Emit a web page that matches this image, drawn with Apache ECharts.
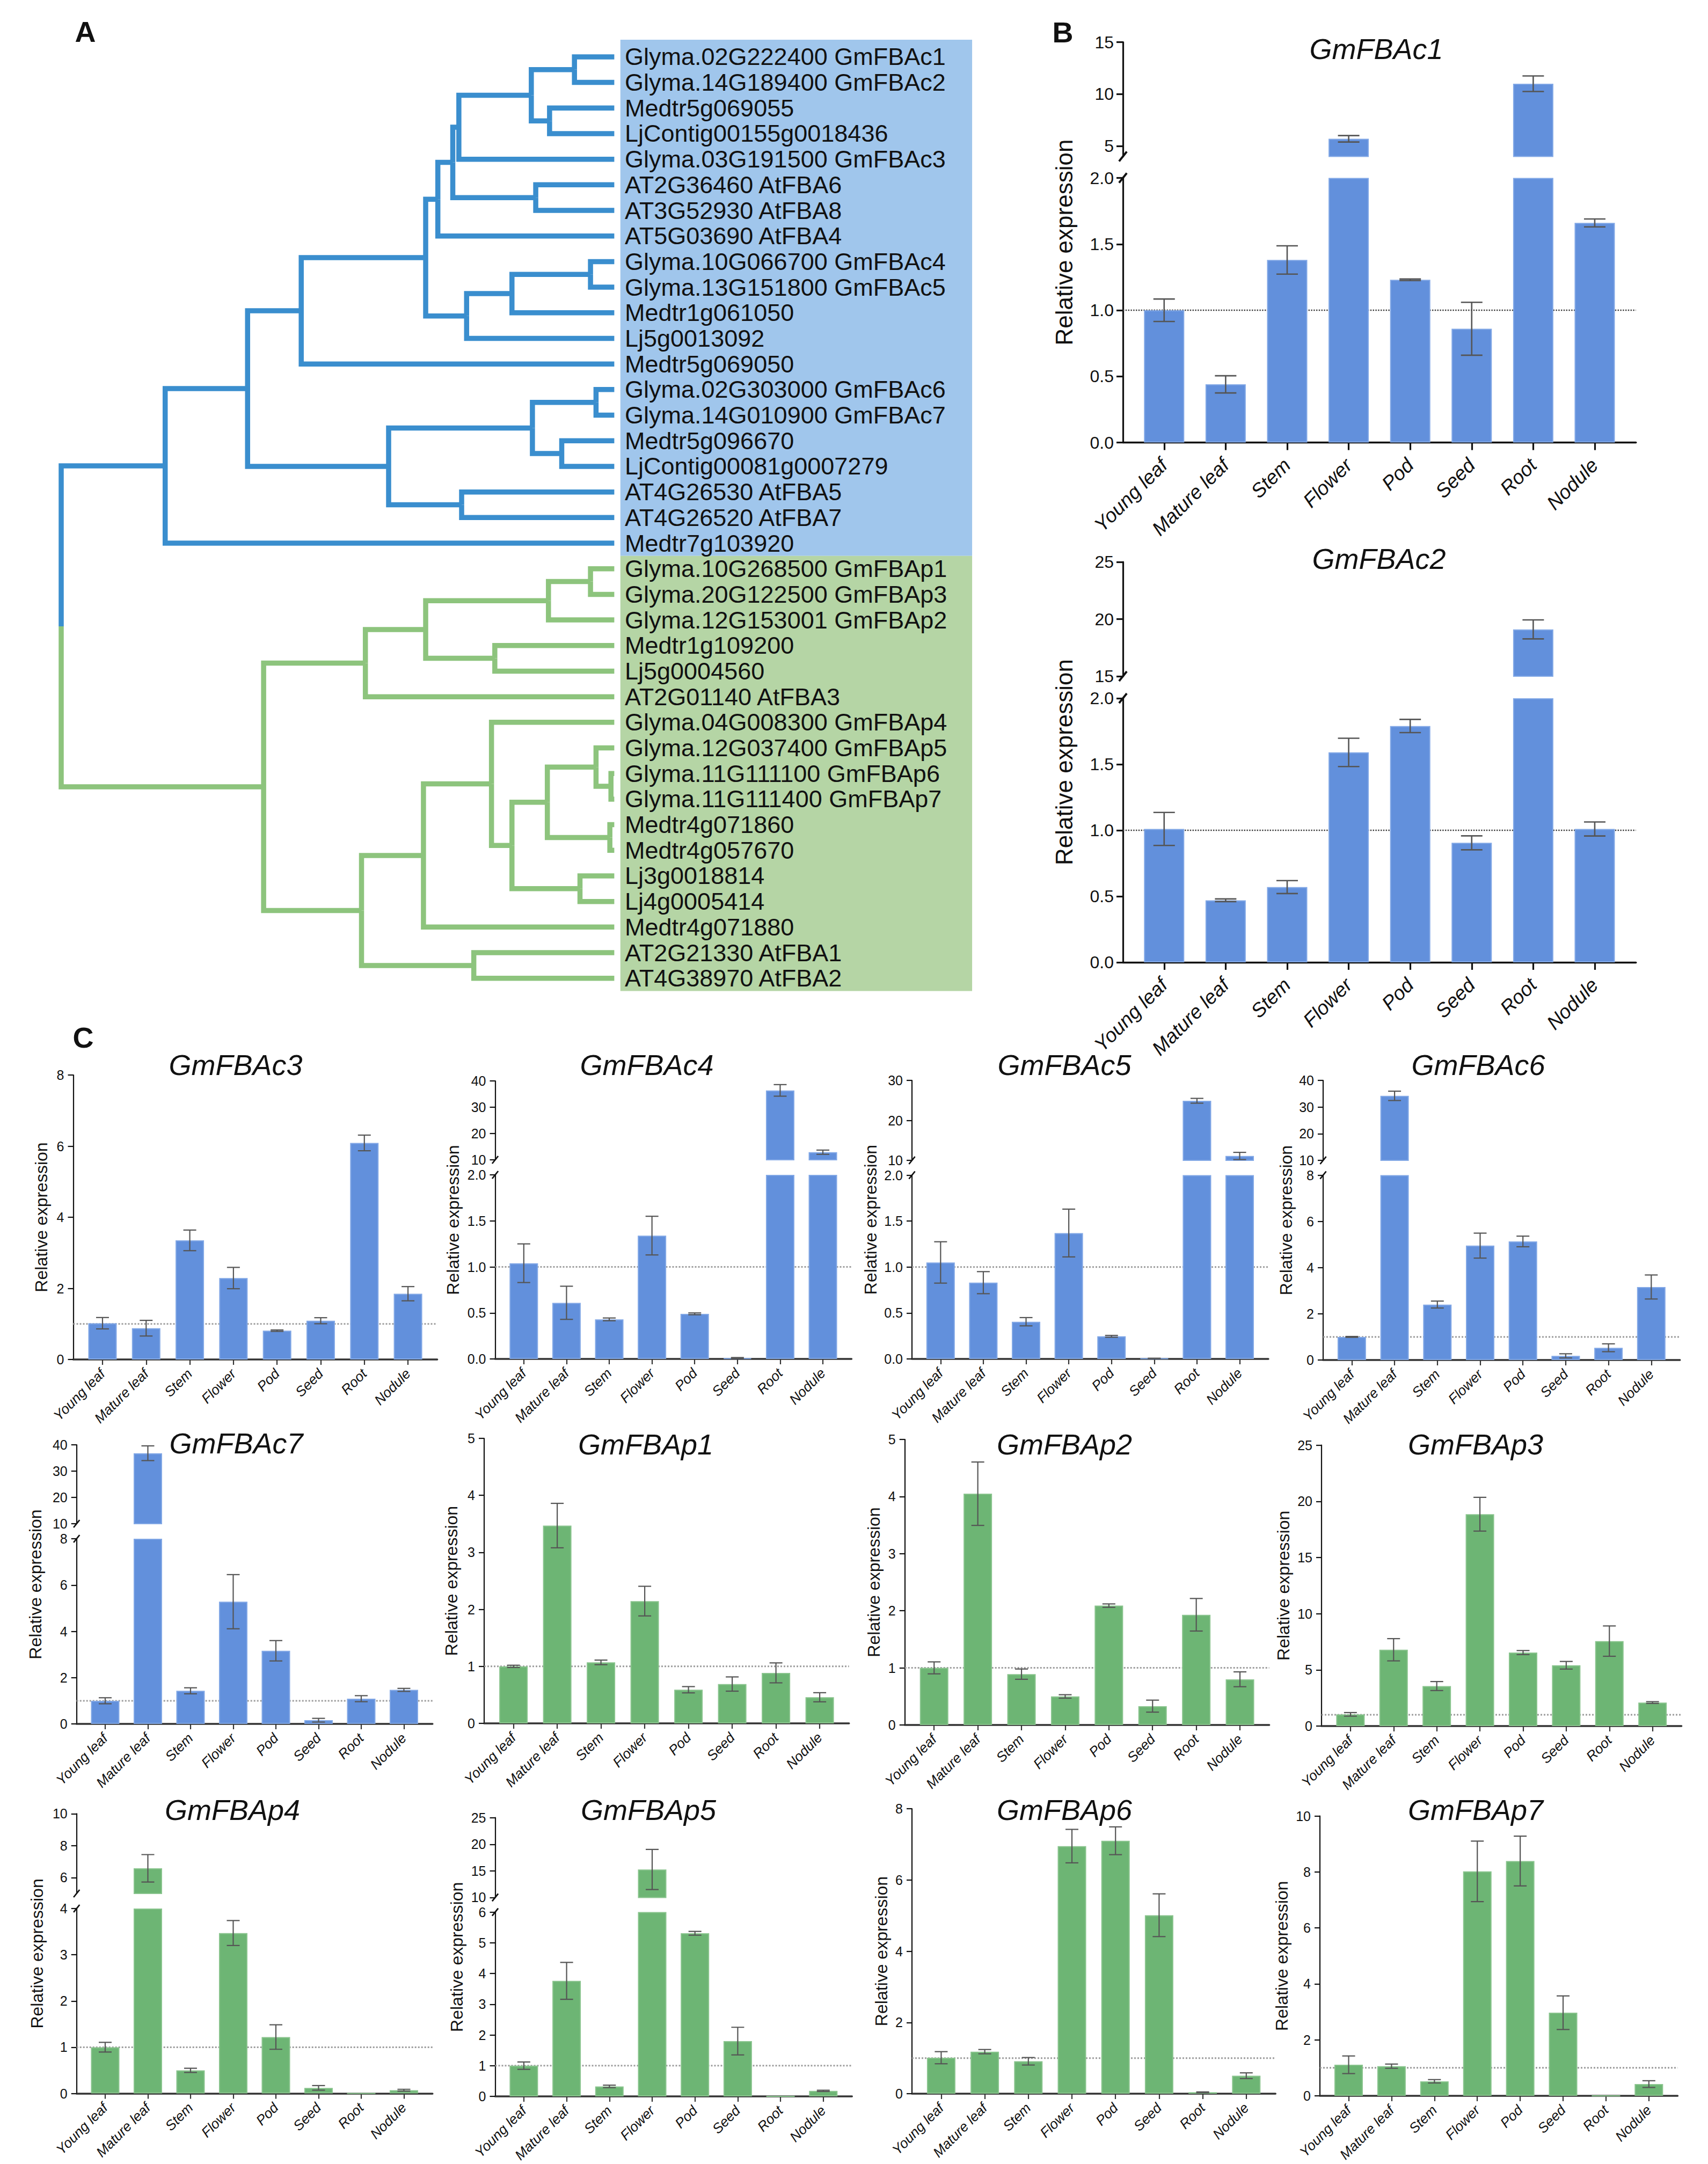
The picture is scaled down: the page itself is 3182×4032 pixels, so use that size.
<!DOCTYPE html>
<html>
<head>
<meta charset="utf-8">
<title>FBA phylogeny and expression</title>
<script src="https://cdn.jsdelivr.net/npm/echarts@6.0.0/dist/echarts.min.js"></script>
<style>
html,body{margin:0;padding:0;background:#ffffff;}
#chart{width:3182px;height:4032px;}
</style>
</head>
<body>
<div id="chart"></div>
<script>
// ======================= DATA =======================
const leafNames = [
  'Glyma.02G222400 GmFBAc1', 'Glyma.14G189400 GmFBAc2', 'Medtr5g069055', 'LjContig00155g0018436',
  'Glyma.03G191500 GmFBAc3', 'AT2G36460 AtFBA6', 'AT3G52930 AtFBA8', 'AT5G03690 AtFBA4',
  'Glyma.10G066700 GmFBAc4', 'Glyma.13G151800 GmFBAc5', 'Medtr1g061050', 'Lj5g0013092',
  'Medtr5g069050', 'Glyma.02G303000 GmFBAc6', 'Glyma.14G010900 GmFBAc7', 'Medtr5g096670',
  'LjContig00081g0007279', 'AT4G26530 AtFBA5', 'AT4G26520 AtFBA7', 'Medtr7g103920',
  'Glyma.10G268500 GmFBAp1', 'Glyma.20G122500 GmFBAp3', 'Glyma.12G153001 GmFBAp2', 'Medtr1g109200',
  'Lj5g0004560', 'AT2G01140 AtFBA3', 'Glyma.04G008300 GmFBAp4', 'Glyma.12G037400 GmFBAp5',
  'Glyma.11G111100 GmFBAp6', 'Glyma.11G111400 GmFBAp7', 'Medtr4g071860', 'Medtr4g057670',
  'Lj3g0018814', 'Lj4g0005414', 'Medtr4g071880', 'AT2G21330 AtFBA1', 'AT4G38970 AtFBA2'
];
// number of leaves in the cytosolic (blue) and plastid (green) clades
const cladeSizes = [20, 17];
// node = [node depth (root 0, tips 1), childA, childB]; integers are leaf indices
const treeTopology = [0,
  [0.188, [0.337, [0.434, [0.659, [0.681, [0.708, [0.719, [0.850, [0.928, 0, 1], [0.883, 2, 3]], 4], [0.858, 5, 6]], 7], [0.733, [0.815, [0.957, 8, 9], 10], 11]], 12], [0.592, [0.852, [0.967, 13, 14], [0.905, 15, 16]], [0.724, 17, 18]]], 19],
  [0.366, [0.550, [0.659, [0.881, [0.957, 20, 21], 22], [0.784, 23, 24]], 25], [0.543, [0.655, [0.778, 26, [0.815, [0.879, [0.967, 27, [0.994, 28, 29]], [0.992, 30, 31]], [0.938, 32, 33]]], 34], [0.746, 35, 36]]]
];

const tissues = ['Young leaf', 'Mature leaf', 'Stem', 'Flower', 'Pod', 'Seed', 'Root', 'Nodule'];

const GmFBAc1_mean = [1.00, 0.44, 1.38, 5.70, 1.23, 0.86, 11.0, 1.66];
const GmFBAc1_sd   = [0.085, 0.065, 0.107, 0.31, 0.006, 0.20, 0.75, 0.03];
const GmFBAc1_yTicksLower = [0, 0.5, 1, 1.5, 2];
const GmFBAc1_yTicksUpper = [5, 10, 15];

const GmFBAc2_mean = [1.01, 0.47, 0.57, 1.59, 1.79, 0.905, 19.1, 1.01];
const GmFBAc2_sd   = [0.125, 0.01, 0.049, 0.107, 0.05, 0.053, 0.83, 0.053];
const GmFBAc2_yTicksLower = [0, 0.5, 1, 1.5, 2];
const GmFBAc2_yTicksUpper = [15, 20, 25];

const GmFBAc3_mean = [1.02, 0.88, 3.35, 2.29, 0.81, 1.09, 6.09, 1.85];
const GmFBAc3_sd   = [0.16, 0.22, 0.29, 0.30, 0.02, 0.085, 0.22, 0.20];
const GmFBAc3_yTicks = [0, 2, 4, 6, 8];

const GmFBAc4_mean = [1.04, 0.61, 0.43, 1.34, 0.49, 0.01, 36.4, 12.9];
const GmFBAc4_sd   = [0.21, 0.18, 0.015, 0.21, 0.01, 0.005, 2.2, 0.8];
const GmFBAc4_yTicksLower = [0, 0.5, 1, 1.5, 2];
const GmFBAc4_yTicksUpper = [10, 20, 30, 40];

const GmFBAc5_mean = [1.05, 0.83, 0.405, 1.37, 0.246, 0.005, 24.9, 11.1];
const GmFBAc5_sd   = [0.225, 0.12, 0.045, 0.26, 0.01, 0.003, 0.6, 0.9];
const GmFBAc5_yTicksLower = [0, 0.5, 1, 1.5, 2];
const GmFBAc5_yTicksUpper = [10, 20, 30];

const GmFBAc6_mean = [1.00, 34.2, 2.40, 4.95, 5.13, 0.18, 0.53, 3.16];
const GmFBAc6_sd   = [0.02, 1.75, 0.15, 0.54, 0.23, 0.09, 0.17, 0.52];
const GmFBAc6_yTicksLower = [0, 2, 4, 6, 8];
const GmFBAc6_yTicksUpper = [10, 20, 30, 40];

const GmFBAc7_mean = [1.00, 36.8, 1.43, 5.28, 3.16, 0.16, 1.09, 1.47];
const GmFBAc7_sd   = [0.13, 2.8, 0.13, 1.17, 0.44, 0.08, 0.13, 0.065];
const GmFBAc7_yTicksLower = [0, 2, 4, 6, 8];
const GmFBAc7_yTicksUpper = [10, 20, 30, 40];

const GmFBAp1_mean = [1.00, 3.47, 1.07, 2.145, 0.59, 0.69, 0.886, 0.458];
const GmFBAp1_sd   = [0.02, 0.39, 0.04, 0.26, 0.055, 0.125, 0.175, 0.08];
const GmFBAp1_yTicks = [0, 1, 2, 3, 4, 5];

const GmFBAp2_mean = [1.00, 4.05, 0.89, 0.50, 2.09, 0.33, 1.93, 0.80];
const GmFBAp2_sd   = [0.105, 0.555, 0.09, 0.03, 0.03, 0.105, 0.285, 0.13];
const GmFBAp2_yTicks = [0, 1, 2, 3, 4, 5];

const GmFBAp3_mean = [1.04, 6.79, 3.56, 18.85, 6.54, 5.41, 7.56, 2.09];
const GmFBAp3_sd   = [0.16, 0.99, 0.40, 1.50, 0.18, 0.34, 1.35, 0.08];
const GmFBAp3_yTicks = [0, 5, 10, 15, 20, 25];

const GmFBAp4_mean = [1.00, 6.58, 0.50, 3.47, 1.22, 0.12, 0, 0.07];
const GmFBAp4_sd   = [0.105, 0.86, 0.045, 0.27, 0.265, 0.05, 0, 0.02];
const GmFBAp4_yTicksLower = [0, 1, 2, 3, 4];
const GmFBAp4_yTicksUpper = [6, 8, 10];

const GmFBAp5_mean = [1.00, 3.76, 0.325, 15.26, 5.31, 1.80, 0, 0.18];
const GmFBAp5_sd   = [0.12, 0.60, 0.04, 3.77, 0.06, 0.45, 0, 0.02];
const GmFBAp5_yTicksLower = [0, 1, 2, 3, 4, 5, 6];
const GmFBAp5_yTicksUpper = [10, 15, 20, 25];

const GmFBAp6_mean = [1.01, 1.18, 0.91, 6.95, 7.10, 5.01, 0.04, 0.505];
const GmFBAp6_sd   = [0.17, 0.06, 0.105, 0.47, 0.39, 0.60, 0.01, 0.08];
const GmFBAp6_yTicks = [0, 2, 4, 6, 8];

const GmFBAp7_mean = [1.11, 1.06, 0.52, 8.02, 8.39, 2.97, 0, 0.42];
const GmFBAp7_sd   = [0.315, 0.075, 0.06, 1.08, 0.89, 0.60, 0, 0.12];
const GmFBAp7_yTicks = [0, 2, 4, 6, 8, 10];

// ======================= STYLE / LAYOUT =======================
const FONT = "'Liberation Sans', Arial, Helvetica, sans-serif";
const TREE_COLORS = ['#3A8ECE', '#8DC47D'];
const BOX_COLORS = ['#A0C6EC', '#B5D5A5'];
const BAR_COLORS = ['#6290DC', '#6DB574'];
const BAR_EDGE = ['#82A8E6', '#89C48D'];
const ERR_COLOR = '#555555';

const TREE = {left: 114, unitX: 1030.4, row0: 105.9, rowH: 47.69, xMax: 1.7, yMin: -0.67,
              boxX0: 1.011, boxX1: 1.647, textX: 1.019, lineWidth: 9.5, font: 45};

const STYLE = {
  B: {barWidth: 75, capHalf: 20, errWidth: 2.6, yAxisWidth: 3.2, xAxisWidth: 3.4, xAxisColor: '#111',
      yTickLen: 12, xTickLen: 14, tickFont: 32, yLabelMargin: 17, catFont: 37, catMargin: 36,
      nameFont: 44, titleFont: 54, refColor: '#3a3a3a', refWidth: 2.4, slash: 9},
  C: {barWidth: 53, capHalf: 12, errWidth: 2.2, yAxisWidth: 2.2, xAxisWidth: 3.6, xAxisColor: '#333',
      yTickLen: 10, xTickLen: 10, tickFont: 25, yLabelMargin: 17, catFont: 26, catMargin: 22,
      nameFont: 32, titleFont: 54, refColor: '#9d9d9d', refWidth: 3, slash: 7}
};
const X_MIN = -0.67, X_MAX = 7.67;
const tissueIdx = tissues.map((t, i) => i);

const chartSpecs = [
  {gene: 'GmFBAc1', panel: 'B', clade: 0, mean: GmFBAc1_mean, sd: GmFBAc1_sd, lowTicks: GmFBAc1_yTicksLower, upTicks: GmFBAc1_yTicksUpper,
   axisX: 2092, spacing: 114.6, low: [331.5, 824.6], lowMax: 2, up: [78.6, 291.5], upMin: 4, upMax: 15, title: [2564, 91], nameX: 1982},
  {gene: 'GmFBAc2', panel: 'B', clade: 0, mean: GmFBAc2_mean, sd: GmFBAc2_sd, lowTicks: GmFBAc2_yTicksLower, upTicks: GmFBAc2_yTicksUpper,
   axisX: 2092, spacing: 114.6, low: [1301, 1793], lowMax: 2, up: [1047, 1260], upMin: 15, upMax: 25, title: [2569, 1041], nameX: 1982},
  {gene: 'GmFBAc3', panel: 'C', clade: 0, mean: GmFBAc3_mean, sd: GmFBAc3_sd, lowTicks: GmFBAc3_yTicks,
   axisX: 136.5, spacing: 81.3, low: [2003, 2533], lowMax: 8, title: [439, 1984], nameX: 76.5},
  {gene: 'GmFBAc4', panel: 'C', clade: 0, mean: GmFBAc4_mean, sd: GmFBAc4_sd, lowTicks: GmFBAc4_yTicksLower, upTicks: GmFBAc4_yTicksUpper,
   axisX: 922.5, spacing: 79.6, low: [2189, 2532], lowMax: 2, up: [2014, 2161], upMin: 10, upMax: 40, title: [1205, 1984], nameX: 844},
  {gene: 'GmFBAc5', panel: 'C', clade: 0, mean: GmFBAc5_mean, sd: GmFBAc5_sd, lowTicks: GmFBAc5_yTicksLower, upTicks: GmFBAc5_yTicksUpper,
   axisX: 1699, spacing: 79.6, low: [2189.5, 2532], lowMax: 2, up: [2013, 2162], upMin: 10, upMax: 30, title: [1983, 1984], nameX: 1622},
  {gene: 'GmFBAc6', panel: 'C', clade: 0, mean: GmFBAc6_mean, sd: GmFBAc6_sd, lowTicks: GmFBAc6_yTicksLower, upTicks: GmFBAc6_yTicksUpper,
   axisX: 2465, spacing: 79.7, low: [2189.5, 2534], lowMax: 8, up: [2013, 2162], upMin: 10, upMax: 40, title: [2754, 1984], nameX: 2396},
  {gene: 'GmFBAc7', panel: 'C', clade: 0, mean: GmFBAc7_mean, sd: GmFBAc7_sd, lowTicks: GmFBAc7_yTicksLower, upTicks: GmFBAc7_yTicksUpper,
   axisX: 142.7, spacing: 79.5, low: [2867, 3212], lowMax: 8, up: [2692, 2839], upMin: 10, upMax: 40, title: [440, 2689], nameX: 66},
  {gene: 'GmFBAp1', panel: 'C', clade: 1, mean: GmFBAp1_mean, sd: GmFBAp1_sd, lowTicks: GmFBAp1_yTicks,
   axisX: 902, spacing: 81.5, low: [2680, 3211], lowMax: 5, title: [1203, 2691], nameX: 841},
  {gene: 'GmFBAp2', panel: 'C', clade: 1, mean: GmFBAp2_mean, sd: GmFBAp2_sd, lowTicks: GmFBAp2_yTicks,
   axisX: 1685.7, spacing: 81.4, low: [2682, 3214], lowMax: 5, title: [1983, 2691], nameX: 1628},
  {gene: 'GmFBAp3', panel: 'C', clade: 1, mean: GmFBAp3_mean, sd: GmFBAp3_sd, lowTicks: GmFBAp3_yTicks,
   axisX: 2462, spacing: 80.4, low: [2692.6, 3216], lowMax: 25, title: [2749, 2691], nameX: 2391},
  {gene: 'GmFBAp4', panel: 'C', clade: 1, mean: GmFBAp4_mean, sd: GmFBAp4_sd, lowTicks: GmFBAp4_yTicksLower, upTicks: GmFBAp4_yTicksUpper,
   axisX: 142.7, spacing: 79.5, low: [3556, 3900.5], lowMax: 4, up: [3379.4, 3528], upMin: 5, upMax: 10, title: [433, 3372], nameX: 69},
  {gene: 'GmFBAp5', panel: 'C', clade: 1, mean: GmFBAp5_mean, sd: GmFBAp5_sd, lowTicks: GmFBAp5_yTicksLower, upTicks: GmFBAp5_yTicksUpper,
   axisX: 922.5, spacing: 79.7, low: [3562.6, 3906], lowMax: 6, up: [3386.7, 3535.4], upMin: 10, upMax: 25, title: [1208, 3372], nameX: 851},
  {gene: 'GmFBAp6', panel: 'C', clade: 1, mean: GmFBAp6_mean, sd: GmFBAp6_sd, lowTicks: GmFBAp6_yTicks,
   axisX: 1699, spacing: 81.2, low: [3370, 3901], lowMax: 8, title: [1983, 3372], nameX: 1642},
  {gene: 'GmFBAp7', panel: 'C', clade: 1, mean: GmFBAp7_mean, sd: GmFBAp7_sd, lowTicks: GmFBAp7_yTicks,
   axisX: 2459, spacing: 79.9, low: [3383.5, 3905], lowMax: 10, title: [2749, 3372], nameX: 2388}
];

const panelLetters = [['A', 159, 59], ['B', 1980, 60], ['C', 155, 1933]];

// ======================= BUILD =======================
const option = {
  animation: false,
  backgroundColor: '#ffffff',
  textStyle: {fontFamily: FONT},
  grid: [], xAxis: [], yAxis: [], series: [],
  graphic: {elements: []}
};

function addText(text, x, y, opt) {
  option.graphic.elements.push({
    type: 'text', x: x, y: y, rotation: opt.rotation || 0, silent: true, z: 50,
    style: {text: text, fontSize: opt.size, fontFamily: FONT, fontStyle: opt.italic ? 'italic' : 'normal',
            fontWeight: opt.bold ? 'bold' : 'normal', fill: opt.color || '#111',
            textAlign: opt.align || 'center', textVerticalAlign: 'middle'}
  });
}

// ---------- Tree ----------
const treeSegs = [];
function walk(node) {
  if (typeof node === 'number') return {x: 1, y: node, clade: node < cladeSizes[0] ? 0 : 1};
  const d = node[0];
  const a = walk(node[1]);
  const b = walk(node[2]);
  const y = (a.y + b.y) / 2;
  treeSegs.push([a.clade, a.x, a.y, d, a.y, d, y]);
  treeSegs.push([b.clade, b.x, b.y, d, b.y, d, y]);
  return {x: d, y: y, clade: a.clade};
}
walk(treeTopology);
const nLeaves = leafNames.length;
const treeYMax = nLeaves - 0.5;

option.grid.push({left: TREE.left, top: TREE.row0 + TREE.yMin * TREE.rowH,
                  width: TREE.xMax * TREE.unitX, height: (treeYMax - TREE.yMin) * TREE.rowH, outerBoundsMode: 'none'});
option.xAxis.push({type: 'value', gridIndex: 0, min: 0, max: TREE.xMax, show: false});
option.yAxis.push({type: 'value', gridIndex: 0, min: TREE.yMin, max: treeYMax, inverse: true, show: false});

const boxData = [
  [TREE.boxX0, TREE.yMin, TREE.boxX1, cladeSizes[0] - 0.5, 0],
  [TREE.boxX0, cladeSizes[0] - 0.5, TREE.boxX1, nLeaves - 0.5, 1]
];
option.series.push({
  type: 'custom', xAxisIndex: 0, yAxisIndex: 0, silent: true, z: 1, data: boxData,
  renderItem: function (p, api) {
    const a = api.coord([api.value(0), api.value(1)]);
    const b = api.coord([api.value(2), api.value(3)]);
    return {type: 'rect', shape: {x: a[0], y: a[1], width: b[0] - a[0], height: b[1] - a[1]},
            style: {fill: BOX_COLORS[api.value(4)]}};
  }
});
option.series.push({
  type: 'custom', xAxisIndex: 0, yAxisIndex: 0, silent: true, z: 3, data: treeSegs,
  encode: {x: [1, 3, 5], y: [2, 4, 6]},
  renderItem: function (p, api) {
    const pts = [[api.value(1), api.value(2)], [api.value(3), api.value(4)], [api.value(5), api.value(6)]]
      .map(q => api.coord(q));
    return {type: 'polyline', shape: {points: pts},
            style: {stroke: TREE_COLORS[api.value(0)], lineWidth: TREE.lineWidth, fill: null, lineJoin: 'miter', lineCap: 'butt'}};
  }
});
option.series.push({
  type: 'custom', xAxisIndex: 0, yAxisIndex: 0, silent: true, z: 4,
  data: leafNames.map((n, i) => [TREE.textX, i]),
  renderItem: function (p, api) {
    const q = api.coord([api.value(0), api.value(1)]);
    return {type: 'text', x: q[0], y: q[1],
            style: {text: leafNames[p.dataIndex], fontSize: TREE.font, fontFamily: FONT, fill: '#111',
                    textAlign: 'left', textVerticalAlign: 'middle'}};
  }
});

// ---------- Bar charts ----------
function makeErrRender(st) {
  return function (p, api) {
    const i = api.value(0), m = api.value(1), s = api.value(2);
    const t = api.coord([i, m + s]);
    const b = api.coord([i, m - s]);
    const style = {stroke: ERR_COLOR, lineWidth: st.errWidth};
    return {type: 'group', children: [
      {type: 'line', shape: {x1: t[0], y1: t[1], x2: b[0], y2: b[1]}, style: style},
      {type: 'line', shape: {x1: t[0] - st.capHalf, y1: t[1], x2: t[0] + st.capHalf, y2: t[1]}, style: style},
      {type: 'line', shape: {x1: b[0] - st.capHalf, y1: b[1], x2: b[0] + st.capHalf, y2: b[1]}, style: style}
    ]};
  };
}

function addBarChart(c) {
  const st = STYLE[c.panel];
  const width = (X_MAX - X_MIN) * c.spacing;
  const segs = [{isLow: true, top: c.low[0], bottom: c.low[1], min: 0, max: c.lowMax, ticks: c.lowTicks}];
  if (c.up) segs.push({isLow: false, top: c.up[0], bottom: c.up[1], min: c.upMin, max: c.upMax, ticks: c.upTicks});
  segs.forEach(seg => {
    const idx = option.grid.length;
    option.grid.push({left: c.axisX, top: seg.top, width: width, height: seg.bottom - seg.top, outerBoundsMode: 'none'});
    const dec = seg.ticks.some(t => Math.round(t) !== t) ? 1 : 0;
    option.xAxis.push({
      type: 'value', gridIndex: idx, min: X_MIN, max: X_MAX, position: 'bottom',
      axisLine: {show: seg.isLow, onZero: false, lineStyle: {color: st.xAxisColor, width: st.xAxisWidth}},
      axisTick: {show: seg.isLow, customValues: tissueIdx, length: st.xTickLen, lineStyle: {color: st.xAxisColor, width: st.yAxisWidth}},
      axisLabel: {show: seg.isLow, customValues: tissueIdx, rotate: 45, margin: st.catMargin,
                  formatter: v => tissues[Math.round(v)], fontSize: st.catFont, fontStyle: 'italic',
                  fontFamily: FONT, color: '#111'},
      splitLine: {show: false}
    });
    option.yAxis.push({
      type: 'value', gridIndex: idx, min: seg.min, max: seg.max,
      axisLine: {show: true, onZero: false, lineStyle: {color: '#111', width: st.yAxisWidth}},
      axisTick: {show: true, customValues: seg.ticks, length: st.yTickLen, lineStyle: {color: '#111', width: st.yAxisWidth}},
      axisLabel: {show: true, customValues: seg.ticks, margin: st.yLabelMargin, formatter: v => Number(v).toFixed(dec),
                  fontSize: st.tickFont, fontFamily: FONT, color: '#111'},
      splitLine: {show: false}
    });
    const barData = [];
    c.mean.forEach((v, i) => {
      if (seg.isLow) barData.push([i, Math.min(v, seg.max)]);
      else if (v > seg.min) barData.push([i, v]);
    });
    option.series.push({
      type: 'bar', xAxisIndex: idx, yAxisIndex: idx, data: barData, barWidth: st.barWidth,
      clip: true, silent: true, z: 2,
      itemStyle: {color: BAR_COLORS[c.clade], borderColor: BAR_EDGE[c.clade], borderWidth: 2}
    });
    if (seg.isLow) {
      option.series.push({
        type: 'line', xAxisIndex: idx, yAxisIndex: idx, data: [[X_MIN, 1], [X_MAX, 1]],
        symbol: 'none', showSymbol: false, silent: true, z: 1,
        lineStyle: {type: 'dotted', color: st.refColor, width: st.refWidth}
      });
    }
    const errData = [];
    c.mean.forEach((v, i) => {
      const inSeg = seg.isLow ? v <= seg.max : v > seg.min;
      if (inSeg && c.sd[i] > 0) errData.push([i, v, c.sd[i]]);
    });
    option.series.push({
      type: 'custom', xAxisIndex: idx, yAxisIndex: idx, data: errData, encode: {x: 0, y: 1},
      clip: true, silent: true, z: 3, renderItem: makeErrRender(st)
    });
  });

  // title
  addText(c.gene, c.title[0], c.title[1], {size: st.titleFont, italic: true});
  // y-axis name
  const topY = c.up ? c.up[0] : c.low[0];
  addText('Relative expression', c.nameX, (topY + c.low[1]) / 2, {size: st.nameFont, rotation: Math.PI / 2});
  // axis break marks
  if (c.up) {
    [c.up[1], c.low[0]].forEach(y => {
      option.graphic.elements.push({
        type: 'line', silent: true, z: 50,
        shape: {x1: c.axisX - st.slash * 0.8, y1: y + st.slash, x2: c.axisX + st.slash * 0.8, y2: y - st.slash},
        style: {stroke: '#111', lineWidth: st.yAxisWidth + 0.6}
      });
    });
  }
}

chartSpecs.forEach(addBarChart);
panelLetters.forEach(p => addText(p[0], p[1], p[2], {size: 54, bold: true}));

const chart = echarts.init(document.getElementById('chart'), null, {renderer: 'svg', width: 3182, height: 4032});
chart.setOption(option);
</script>
</body>
</html>
